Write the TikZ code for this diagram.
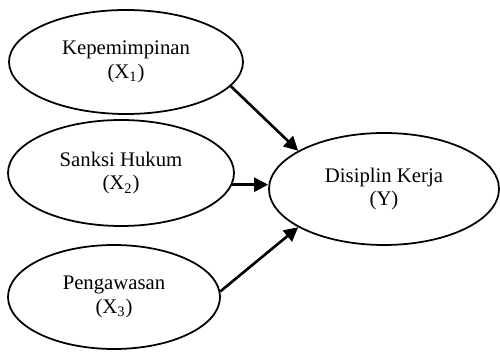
\documentclass[tikz,border=0pt]{standalone}
\usepackage{fontspec}
\setmainfont{Liberation Serif}
\usetikzlibrary{shapes.geometric,arrows.meta}
\begin{document}
\begin{tikzpicture}[scale=1.0,
  var/.style={ellipse,draw,line width=1pt,inner sep=0pt,align=center,
    font=\fontsize{11.8}{13.5}\selectfont},
  link/.style={-{Triangle[length=8pt,width=8pt]},line width=1.5pt}]
 \useasboundingbox (0,0) rectangle (10,7.02);
 \node[var,minimum width=4.68cm,minimum height=2.08cm] (x1) at (2.52,5.78)
   {Kepemimpinan\\(X\textsubscript{1})};
 \node[var,minimum width=4.52cm,minimum height=2.12cm] (x2) at (2.42,3.56)
   {Sanksi Hukum\\(X\textsubscript{2})};
 \node[var,minimum width=4.24cm,minimum height=2.08cm] (x3) at (2.28,1.08)
   {Pengawasan\\(X\textsubscript{3})};
 \node[var,minimum width=4.6cm,minimum height=2.24cm] (y) at (7.68,3.24)
   {Disiplin Kerja\\(Y)};
 \draw[link] (x1.-13)--(y.156);
 \draw[link] (x2.-6)--(x2.-6 -| y.west);
 \draw[link] (x3.3)--(y.204);
\end{tikzpicture}
\end{document}
